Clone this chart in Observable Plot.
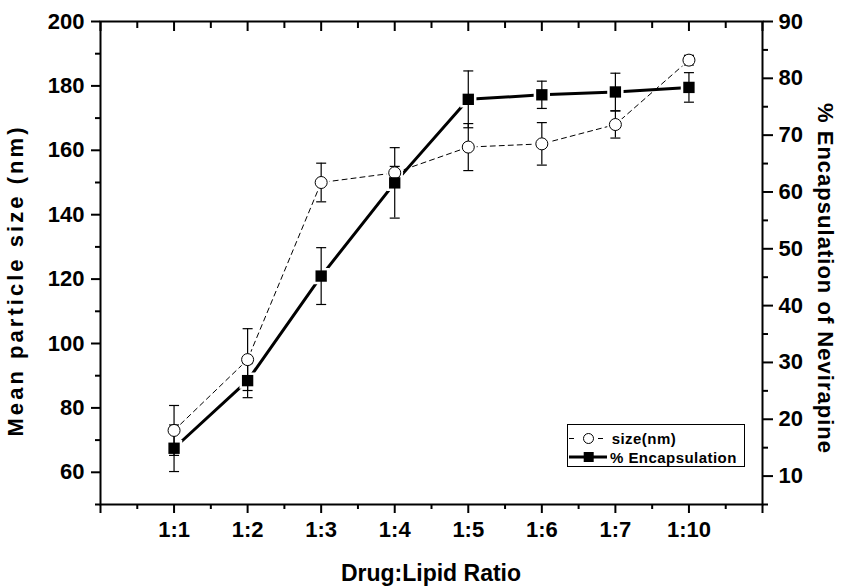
<!DOCTYPE html>
<html>
<head>
<meta charset="utf-8">
<script src="https://cdn.jsdelivr.net/npm/d3@7"></script>
<script src="https://cdn.jsdelivr.net/npm/@observablehq/plot@0.6"></script>
<style>
  html, body { margin: 0; padding: 0; background: #fff; }
  #chart { width: 844px; height: 586px; }
</style>
</head>
<body>
<div id="chart"></div>
<script>
// ---- data ----
const ratios   = ["1:1", "1:2", "1:3", "1:4", "1:5", "1:6", "1:7", "1:10"];
const sizeNm   = [73, 95, 150, 153, 161, 162, 168, 188];
const sizeErr  = [7.75, 9.6, 6, 2, 7.3, 6.6, 4.2, 1.5];
const encapPct = [14.9, 26.8, 45.2, 61.6, 76.3, 77.1, 77.6, 78.4];
const encapErr = [4.1, 3.0, 5.0, 6.2, 5.0, 2.4, 3.3, 2.6];

const leftTicks  = [60, 80, 100, 120, 140, 160, 180, 200];
const leftMinor  = [50, 70, 90, 110, 130, 150, 170, 190];
const rightTicks = [10, 20, 30, 40, 50, 60, 70, 80, 90];
const rightMinor = [5, 15, 25, 35, 45, 55, 65, 75, 85];
const xMajor = [0, 1, 2, 3, 4, 5, 6, 7, 8, 9];
const xMinor = [0.5, 1.5, 2.5, 3.5, 4.5, 5.5, 6.5, 7.5, 8.5];

const leftDomain  = [50, 200];
const rightDomain = [5, 90];
const xDomain = [0, 9];

const W = 844, H = 586, mL = 100, mR = 82, mT = 21, mB = 82;
const unitsPerPx = (leftDomain[1] - leftDomain[0]) / (H - mT - mB);

const k = (leftDomain[1] - leftDomain[0]) / (rightDomain[1] - rightDomain[0]);
const toLeft   = v => leftDomain[0] + (v - rightDomain[0]) * k;
const fromLeft = v => rightDomain[0] + (v - leftDomain[0]) / k;

const sizeData = ratios.map((r, i) => ({
  x: i + 1, y: sizeNm[i], lo: sizeNm[i] - sizeErr[i], hi: sizeNm[i] + sizeErr[i]
}));
const encData = ratios.map((r, i) => ({
  x: i + 1, y: toLeft(encapPct[i]),
  lo: toLeft(encapPct[i] - encapErr[i]), hi: toLeft(encapPct[i] + encapErr[i])
}));
// inward top ticks: 10px (major) and 7px (minor) long
const topMajor = xMajor.map(v => ({ x: v, y1: leftDomain[1], y2: leftDomain[1] - 10 * unitsPerPx }));
const topMinor = xMinor.map(v => ({ x: v, y1: leftDomain[1], y2: leftDomain[1] - 7 * unitsPerPx }));

// horizontal cap symbol for error bars
const capSymbol = { draw(ctx, size) { const h = Math.sqrt(size / Math.PI); ctx.moveTo(-h, 0); ctx.lineTo(h, 0); } };

const FONT = '"Liberation Sans", Arial, Helvetica, sans-serif';
const tickFont = { fontSize: 22, fontWeight: "bold" };
const blank = () => "";

const svg = Plot.plot({
  width: W, height: H,
  marginLeft: mL, marginRight: mR, marginTop: mT, marginBottom: mB,
  style: { fontFamily: FONT, background: "#fff", color: "#000", overflow: "visible" },
  x: { domain: xDomain, label: null },
  y: { domain: leftDomain, label: null },
  marks: [
    // left axis
    Plot.axisY({ anchor: "left", ticks: leftTicks, tickSize: 9, tickPadding: 7, strokeWidth: 2, ...tickFont, label: null, tickFormat: d => String(d) }),
    Plot.axisY({ anchor: "left", ticks: leftMinor, tickSize: 5, strokeWidth: 2, label: null, tickFormat: blank }),
    // right axis (second scale, mapped onto the left domain)
    Plot.axisY({ anchor: "right", ticks: rightTicks.map(toLeft), tickSize: 10, tickPadding: 6, strokeWidth: 2, ...tickFont, label: null, tickFormat: d => String(Math.round(fromLeft(d))) }),
    Plot.axisY({ anchor: "right", ticks: rightMinor.map(toLeft), tickSize: 5, strokeWidth: 2, label: null, tickFormat: blank }),
    // bottom axis
    Plot.axisX({ anchor: "bottom", ticks: xMajor, tickSize: 9, tickPadding: 8, strokeWidth: 2, ...tickFont, label: null, tickFormat: d => ratios[d - 1] ?? "" }),
    Plot.axisX({ anchor: "bottom", ticks: xMinor, tickSize: 5, strokeWidth: 2, label: null, tickFormat: blank }),
    Plot.frame({ stroke: "#000", fill: "none", strokeWidth: 2 }),
    // top mirrored ticks pointing inward (down)
    Plot.ruleX(topMajor, { x: "x", y1: "y1", y2: "y2", stroke: "#000", strokeWidth: 2 }),
    Plot.ruleX(topMinor, { x: "x", y1: "y1", y2: "y2", stroke: "#000", strokeWidth: 2 }),

    // series lines
    Plot.line(sizeData, { x: "x", y: "y", stroke: "#000", strokeWidth: 1, strokeDasharray: "5,4" }),
    Plot.line(encData, { x: "x", y: "y", stroke: "#000", strokeWidth: 3 }),
    // white halos to leave a gap between lines and markers
    Plot.dot(sizeData, { x: "x", y: "y", r: 6, fill: "#fff", stroke: "#fff", strokeWidth: 5 }),
    Plot.dot(encData, { x: "x", y: "y", symbol: "square", r: 6.4, fill: "#fff", stroke: "#fff", strokeWidth: 5 }),

    // error bars
    Plot.ruleX(sizeData, { x: "x", y1: "lo", y2: "hi", stroke: "#000", strokeWidth: 1.2 }),
    Plot.dot(sizeData, { x: "x", y: "lo", symbol: capSymbol, r: 5, fill: "none", stroke: "#000", strokeWidth: 1.2 }),
    Plot.dot(sizeData, { x: "x", y: "hi", symbol: capSymbol, r: 5, fill: "none", stroke: "#000", strokeWidth: 1.2 }),
    Plot.ruleX(encData, { x: "x", y1: "lo", y2: "hi", stroke: "#000", strokeWidth: 1.2 }),
    Plot.dot(encData, { x: "x", y: "lo", symbol: capSymbol, r: 5, fill: "none", stroke: "#000", strokeWidth: 1.2 }),
    Plot.dot(encData, { x: "x", y: "hi", symbol: capSymbol, r: 5, fill: "none", stroke: "#000", strokeWidth: 1.2 }),

    // markers
    Plot.dot(sizeData, { x: "x", y: "y", r: 6, fill: "#fff", stroke: "#000", strokeWidth: 1 }),
    Plot.dot(encData, { x: "x", y: "y", symbol: "square", r: 6.4, fill: "#000", stroke: "none" })
  ]
});

document.getElementById("chart").appendChild(svg);

// ---- axis titles ----
const s = d3.select(svg);
s.append("text")
  .attr("x", 431).attr("y", 581)
  .attr("text-anchor", "middle")
  .attr("font-family", FONT).attr("font-weight", "bold").attr("font-size", 23)
  .attr("fill", "#000")
  .text("Drug:Lipid Ratio");
s.append("text")
  .attr("transform", "translate(23,282) rotate(-90)")
  .attr("text-anchor", "middle")
  .attr("font-family", FONT).attr("font-weight", "bold").attr("font-size", 22)
  .attr("textLength", 309).attr("lengthAdjust", "spacing")
  .attr("fill", "#000")
  .text("Mean particle size (nm)");
s.append("text")
  .attr("transform", "translate(818,278) rotate(90)")
  .attr("text-anchor", "middle")
  .attr("font-family", FONT).attr("font-weight", "bold").attr("font-size", 22)
  .attr("textLength", 350).attr("lengthAdjust", "spacing")
  .attr("fill", "#000")
  .text("% Encapsulation of Nevirapine");

// ---- legend (inside the plot area) ----
const lg = s.append("g").attr("transform", "translate(567,424)");
lg.append("rect").attr("x", 0.5).attr("y", 0.5).attr("width", 177).attr("height", 42)
  .attr("fill", "#fff").attr("stroke", "#000").attr("stroke-width", 1);
// row 1: size (dashed, open circle)
lg.append("line").attr("x1", 2).attr("x2", 7).attr("y1", 14.5).attr("y2", 14.5).attr("stroke", "#000").attr("stroke-width", 1);
lg.append("line").attr("x1", 31).attr("x2", 36).attr("y1", 14.5).attr("y2", 14.5).attr("stroke", "#000").attr("stroke-width", 1);
lg.append("circle").attr("cx", 21.5).attr("cy", 14.5).attr("r", 5).attr("fill", "#fff").attr("stroke", "#000").attr("stroke-width", 1);
// row 2: encapsulation (solid, filled square)
lg.append("line").attr("x1", 2).attr("x2", 40).attr("y1", 33).attr("y2", 33).attr("stroke", "#000").attr("stroke-width", 3);
lg.append("rect").attr("x", 16.7).attr("y", 28).attr("width", 10).attr("height", 10).attr("fill", "#000");
const legendText = ["size(nm)", "% Encapsulation"];
const legendBase = [20.3, 38.7];
legendText.forEach((t, i) => {
  lg.append("text")
    .attr("x", i === 0 ? 44.7 : 43).attr("y", legendBase[i])
    .attr("text-anchor", "start")
    .attr("font-family", FONT).attr("font-weight", "bold").attr("font-size", 15)
    .attr("letter-spacing", "0.45px")
    .attr("fill", "#000")
    .text(t);
});
</script>
</body>
</html>
